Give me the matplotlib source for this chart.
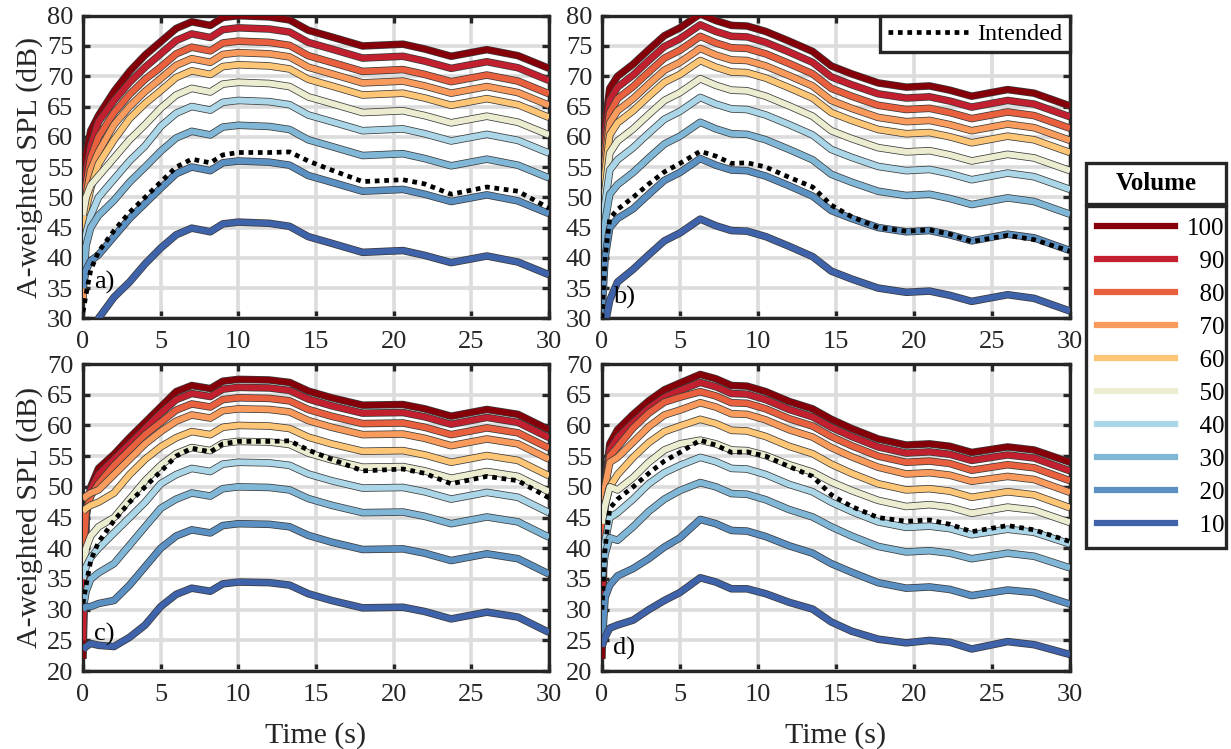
import matplotlib
matplotlib.use("Agg")
import matplotlib.pyplot as plt
import matplotlib.patheffects as pe
from matplotlib.lines import Line2D
from matplotlib.patches import Rectangle

# ── data ──────────────────────────────────────────────────────────────────────
VOLUMES = [100, 90, 80, 70, 60, 50, 40, 30, 20, 10]
COLORS = ["#850009", "#c21f2f", "#e8603d", "#f99b5c", "#fdc576",
          "#ecedd0", "#abd6e8", "#80b7d6", "#5b90c3", "#3f63ab"]

# time grids (s)
T_AC = [0, 0.2, 0.5, 1, 2, 3, 4, 5, 6, 7, 8.2, 9, 10, 12, 13.3, 14.5, 16, 18,
        20.6, 22, 23.7, 26, 28, 30]
T_BD = [0, 0.2, 0.5, 1, 2, 3, 4, 5, 6.3, 7.3, 8.3, 9.3, 10.5, 12, 13.5, 14.7,
        16, 17.7, 19.5, 21, 22.3, 23.7, 26, 27.7, 30]

# panel a) – rows follow VOLUMES
SPL_A = [
    [40, 57, 61, 63.5, 67.5, 70.8, 73.5, 75.7, 77.9, 79, 78.4, 79.7, 80, 79.8, 79.3, 77.6, 76.5, 75, 75.3, 74.5, 73.3, 74.4, 73.4, 71.3],
    [36, 54, 58.5, 62.5, 66, 69, 71.5, 73.7, 75.9, 77, 76.4, 77.7, 78, 77.8, 77.3, 75.6, 74.5, 73, 73.3, 72.5, 71.3, 72.4, 71.4, 69.3],
    [34, 52, 56.5, 60, 64, 67, 69.5, 71.5, 73.7, 74.8, 74.2, 75.5, 75.8, 75.6, 75.1, 73.4, 72.3, 70.8, 71.1, 70.3, 69.1, 70.2, 69.2, 67.1],
    [33, 50, 54.5, 57.5, 62, 65, 67.5, 69.6, 71.8, 72.9, 72.3, 73.6, 73.9, 73.7, 73.2, 71.5, 70.4, 68.9, 69.2, 68.4, 67.2, 68.3, 67.3, 65.2],
    [38, 48, 51.5, 55.5, 59.5, 63, 65.5, 67.6, 69.8, 70.9, 70.3, 71.6, 71.9, 71.7, 71.2, 69.5, 68.4, 66.9, 67.2, 66.4, 65.2, 66.3, 65.3, 63.2],
    [47, 50, 52, 53.5, 56.5, 59.5, 62, 64.7, 66.9, 68, 67.4, 68.7, 69, 68.8, 68.3, 66.6, 65.5, 64, 64.3, 63.5, 62.3, 63.4, 62.4, 60.3],
    [36, 44, 47, 50, 53, 56, 58.5, 61.7, 63.9, 65, 64.4, 65.7, 66, 65.8, 65.3, 63.6, 62.5, 61, 61.3, 60.5, 59.3, 60.4, 59.4, 57.3],
    [35, 42, 45, 47, 49.5, 52.5, 55, 57.6, 59.8, 60.9, 60.3, 61.6, 61.9, 61.7, 61.2, 59.5, 58.4, 56.9, 57.2, 56.4, 55.2, 56.3, 55.3, 53.2],
    [35, 38, 39.5, 40.5, 43.5, 46.5, 49, 51.5, 53.9, 55, 54.4, 55.7, 56, 55.8, 55.3, 53.6, 52.5, 51, 51.3, 50.5, 49.3, 50.4, 49.4, 47.3],
    [22, 24, 27, 30, 33.5, 36, 39, 41.6, 43.8, 44.9, 44.3, 45.6, 45.9, 45.7, 45.2, 43.5, 42.4, 40.9, 41.2, 40.4, 39.2, 40.3, 39.3, 37.2],
]

# panel b)
SPL_B = [
    [32, 62, 68, 70, 72, 74.4, 76.7, 78, 80.3, 79.2, 78.4, 78.3, 77.4, 75.8, 74.1, 71.7, 70.4, 68.9, 68.2, 68.4, 67.7, 66.7, 67.8, 67.2, 65.1],
    [31, 60, 66, 68.2, 70.2, 72.6, 74.9, 76.2, 78.5, 77.4, 76.6, 76.5, 75.6, 74, 72.3, 69.9, 68.6, 67.1, 66.4, 66.6, 65.9, 64.9, 66, 65.4, 63.3],
    [31, 58, 64, 66.3, 68.3, 70.7, 73, 74.3, 76.6, 75.5, 74.7, 74.6, 73.7, 72.1, 70.4, 68, 66.7, 65.2, 64.5, 64.7, 64, 63, 64.1, 63.5, 61.4],
    [31, 56, 62.3, 64.3, 66.3, 68.7, 71, 72.3, 74.6, 73.5, 72.7, 72.6, 71.7, 70.1, 68.4, 66, 64.7, 63.2, 62.5, 62.7, 62, 61, 62.1, 61.5, 59.4],
    [32, 54, 60.3, 62.3, 64.3, 66.7, 69, 70.3, 72.6, 71.5, 70.7, 70.6, 69.7, 68.1, 66.4, 64, 62.7, 61.2, 60.5, 60.7, 60, 59, 60.1, 59.5, 57.4],
    [33, 51, 57.3, 59.3, 61.3, 63.7, 66, 67.3, 69.6, 68.5, 67.7, 67.6, 66.7, 65.1, 63.4, 61, 59.7, 58.2, 57.5, 57.7, 57, 56, 57.1, 56.5, 54.4],
    [34, 49, 54.5, 56.2, 58.2, 60.6, 62.9, 64.2, 66.5, 65.4, 64.6, 64.5, 63.6, 62, 60.3, 57.9, 56.6, 55.1, 54.4, 54.6, 53.9, 52.9, 54, 53.4, 51.3],
    [35, 46, 50.5, 52.1, 54.1, 56.5, 58.8, 60.1, 62.4, 61.3, 60.5, 60.4, 59.5, 57.9, 56.2, 53.8, 52.5, 51, 50.3, 50.5, 49.8, 48.8, 49.9, 49.3, 47.2],
    [31, 40, 45, 46.5, 48.1, 50.5, 52.8, 54.1, 56.4, 55.3, 54.5, 54.4, 53.5, 51.9, 50.2, 47.8, 46.5, 45, 44.3, 44.5, 43.8, 42.8, 43.9, 43.3, 41.2],
    [28, 29, 33, 36, 38.1, 40.5, 42.8, 44.1, 46.4, 45.3, 44.5, 44.4, 43.5, 41.9, 40.2, 37.8, 36.5, 35, 34.3, 34.5, 33.8, 32.8, 33.9, 33.3, 31.2],
]

# panel c)
SPL_C = [
    [22, 45, 50, 53, 55.3, 58, 60.5, 63, 65.5, 66.5, 66, 67.2, 67.5, 67.4, 67, 65.6, 64.5, 63.3, 63.4, 62.7, 61.5, 62.6, 61.8, 59.3],
    [25, 46, 49.5, 52, 54.5, 57, 59.5, 62, 64.2, 65.2, 64.7, 65.9, 66.2, 66.1, 65.7, 64.3, 63.2, 62, 62.1, 61.4, 60.2, 61.3, 60.5, 58],
    [38, 46, 48.5, 50.5, 53.5, 56, 58.5, 60.5, 62.5, 63.5, 63, 64.2, 64.5, 64.4, 64, 62.6, 61.5, 60.3, 60.4, 59.7, 58.5, 59.6, 58.8, 56.3],
    [48, 48.5, 49, 49.5, 52, 54.5, 57, 59, 60.7, 61.7, 61.2, 62.4, 62.7, 62.6, 62.2, 60.8, 59.7, 58.5, 58.6, 57.9, 56.7, 57.8, 57, 54.5],
    [46, 46.5, 47, 47.5, 49, 52, 54.5, 56.5, 58, 59, 58.5, 59.7, 60, 59.9, 59.5, 58.1, 57, 55.8, 55.9, 55.2, 54, 55.1, 54.3, 51.8],
    [35, 40, 42, 43.5, 45, 48, 51, 53.5, 55.4, 56.4, 55.9, 57.1, 57.4, 57.3, 56.9, 55.5, 54.4, 53.2, 53.3, 52.6, 51.4, 52.5, 51.7, 49.2],
    [35, 37, 38.5, 40, 42.5, 45, 47.5, 50.5, 52, 53, 52.5, 53.7, 54, 53.9, 53.5, 52.1, 51, 49.8, 49.9, 49.2, 48, 49.1, 48.3, 45.8],
    [30, 33, 35, 36, 37.5, 40.5, 43.5, 46.5, 48, 49, 48.5, 49.7, 50, 49.9, 49.5, 48.1, 47, 45.8, 45.9, 45.2, 44, 45.1, 44.3, 41.8],
    [30, 30.5, 30.5, 31, 31.5, 34, 37, 40, 42, 43, 42.5, 43.7, 44, 43.9, 43.5, 42.1, 41, 39.8, 39.9, 39.2, 38, 39.1, 38.3, 35.8],
    [23.5, 24, 24.5, 24.2, 24, 25.5, 27.5, 30.5, 32.5, 33.5, 33, 34.2, 34.5, 34.4, 34, 32.6, 31.5, 30.3, 30.4, 29.7, 28.5, 29.6, 28.8, 26.3],
]

# panel d)
SPL_D = [
    [22, 50, 57, 59.3, 61.8, 64, 65.8, 66.9, 68.3, 67.6, 66.5, 66.4, 65.5, 63.9, 62.7, 61, 59.5, 57.8, 56.8, 57, 56.6, 55.6, 56.5, 56, 54],
    [30, 50, 56, 58, 60.5, 62.8, 64.6, 65.7, 67, 66.3, 65.2, 65.1, 64.2, 62.6, 61.4, 59.7, 58.2, 56.5, 55.5, 55.7, 55.3, 54.3, 55.2, 54.7, 52.6],
    [35, 50, 55, 56.5, 59.6, 62, 63.8, 64.6, 65.5, 64.8, 63.7, 63.6, 62.7, 61.1, 59.9, 58.2, 56.7, 55, 54, 54.2, 53.8, 52.7, 53.6, 53.1, 51],
    [45, 50, 54, 54.8, 57.3, 59.8, 61.7, 62.5, 63.7, 63, 61.9, 61.8, 60.9, 59.3, 58.1, 56.4, 54.9, 53.2, 52.1, 52.3, 51.9, 50.9, 51.7, 51.2, 49.1],
    [44.5, 47, 50, 52, 54.8, 57.2, 59, 59.9, 61, 60.3, 59.2, 59.1, 58.2, 56.6, 55.4, 53.7, 52.2, 50.5, 49.5, 49.7, 49.3, 48.3, 49.2, 48.7, 46.6],
    [44, 47, 50, 49.5, 51.5, 54, 56, 57, 57.6, 57, 56, 55.9, 55.1, 53.6, 52.4, 50.8, 49.4, 47.8, 46.8, 47.1, 46.7, 45.7, 46.7, 46.2, 44.2],
    [36, 41, 45, 45.8, 48, 50.5, 52.3, 53.5, 54.8, 54.1, 53, 52.9, 52, 50.4, 49.2, 47.5, 46, 44.3, 43.4, 43.6, 43.2, 42.2, 43.1, 42.6, 40.7],
    [35, 39, 41.7, 41.3, 43.5, 46, 48, 49.4, 50.7, 50, 48.9, 48.8, 47.9, 46.3, 45.1, 43.5, 42, 40.3, 39.4, 39.6, 39.2, 38.3, 39.2, 38.7, 36.8],
    [24, 32, 34, 35.5, 36.7, 38.3, 40.2, 41.7, 44.7, 44, 42.9, 42.8, 41.9, 40.4, 39.2, 37.5, 36.1, 34.4, 33.5, 33.7, 33.3, 32.3, 33.2, 32.8, 30.9],
    [24, 25.5, 27, 27.5, 28.3, 30, 31.5, 32.8, 35.2, 34.5, 33.4, 33.4, 32.6, 31.2, 30.1, 28, 26.5, 25.2, 24.6, 25, 24.7, 23.6, 24.8, 24.3, 22.7],
]

# intended level (same target in a/c and in b/d)
INTENDED_AC = [31, 34, 38, 41, 44.5, 47.5, 50, 52.5, 55, 56.3, 55.7, 57, 57.4, 57.4, 57.5, 56, 54.5, 52.6, 52.9, 52.2, 50.5, 51.7, 51, 48.2]
INTENDED_BD = [30, 40, 46.5, 48, 50, 52.2, 54.2, 55.6, 57.6, 56.8, 55.6, 55.7, 55, 53.3, 51.7, 48.7, 46.8, 45, 44.4, 44.6, 43.9, 42.7, 43.7, 43, 41.1]

# ── style ─────────────────────────────────────────────────────────────────────
DARK = "#262626"
plt.rcParams.update({
    "font.family": ["Liberation Serif", "DejaVu Serif"],
    "font.size": 19,
    "axes.linewidth": 2.4,
    "axes.edgecolor": DARK,
})

fig = plt.figure(figsize=(12.31, 7.49), dpi=100)

panels = [
    ("a)", [0.0674, 0.575, 0.3786, 0.404], T_AC, SPL_A, INTENDED_AC, (30, 80), 0.12),
    ("b)", [0.489, 0.575, 0.3802, 0.404], T_BD, SPL_B, INTENDED_BD, (30, 80), 0.07),
    ("c)", [0.0674, 0.104, 0.3786, 0.41], T_AC, SPL_C, INTENDED_AC, (20, 70), 0.12),
    ("d)", [0.489, 0.104, 0.3802, 0.41], T_BD, SPL_D, INTENDED_BD, (20, 70), 0.075),
]

outline = [pe.Stroke(linewidth=5.4, foreground="#3a3a3a"), pe.Normal()]

axes = {}
for tag, rect, t, rows, intended, ylim, ytxt in panels:
    ax = fig.add_axes(rect)
    axes[tag] = ax
    for vol, col, y in zip(VOLUMES, COLORS, rows):
        ax.plot(t, y, color=col, lw=4.3, solid_joinstyle="round",
                solid_capstyle="butt", path_effects=outline, zorder=3)
    line_int, = ax.plot(t, intended, color="black", lw=3.4,
                        linestyle=(0, (1, 1)), dash_capstyle="butt", zorder=4)

    ax.set_xlim(0, 30)
    ax.set_ylim(*ylim)
    ax.set_xticks(range(0, 31, 5))
    ax.set_yticks(range(ylim[0], ylim[1] + 1, 5))
    ax.grid(True, color="#dcdcdc", lw=2.6)
    ax.set_axisbelow(True)
    ax.tick_params(direction="in", length=5, width=2.4, top=True, right=True,
                   labelsize=19, labelcolor=DARK, color=DARK)
    ax.tick_params(axis="x", pad=9)
    ax.tick_params(axis="y", pad=7)
    ax.text(0.024, ytxt, tag, transform=ax.transAxes, fontsize=19,
            va="center", ha="left", zorder=5)

for tag in ("a)", "c)"):
    axes[tag].set_ylabel("A-weighted SPL (dB)", fontsize=21.5, color=DARK,
                         labelpad=3)
for tag in ("c)", "d)"):
    axes[tag].set_xlabel("Time (s)", fontsize=21.5, color=DARK, labelpad=12)

# "Intended" legend in panel b
leg_i = axes["b)"].legend([line_int], ["Intended"], loc="upper right",
                          borderaxespad=0, fancybox=False, edgecolor=DARK,
                          framealpha=1, fontsize=17.5, handlelength=3.3,
                          handletextpad=0.4, borderpad=0.3)
leg_i.get_frame().set_linewidth(2.4)

# Volume legend outside on the right
handles = [Line2D([], [], color=c, lw=4.5) for c in COLORS]
labels = [str(v) if v == 100 else "\u2007" + str(v) for v in VOLUMES]
x0, w = 1086 / 1231, 140 / 1231
leg_v = fig.legend(handles, labels, loc="upper left",
                   bbox_to_anchor=(x0, 1 - 206 / 749, w, 0), mode="expand",
                   fancybox=False, edgecolor=DARK, framealpha=1, fontsize=18,
                   handlelength=3.1, handletextpad=0.5, labelspacing=0.42,
                   borderpad=0.45, borderaxespad=0)
leg_v.get_frame().set_linewidth(2.4)

fig.add_artist(Rectangle((x0, 1 - 204 / 749), w, 41 / 749,
                         transform=fig.transFigure, facecolor="white",
                         edgecolor=DARK, lw=2.4))
fig.text(x0 + w / 2, 1 - 183.5 / 749, "Volume", ha="center", va="center",
         fontsize=18, fontweight="bold")

fig.savefig("out.png", dpi=100, facecolor="white")
